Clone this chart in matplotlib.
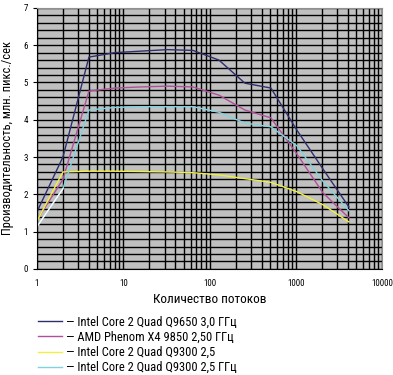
import numpy as np
import matplotlib.pyplot as plt
from matplotlib.ticker import LogLocator, MultipleLocator, NullFormatter

plt.rcParams["font.family"] = ["Roboto Condensed", "DejaVu Sans"]

threads = [1, 2, 4, 8, 16, 32, 64, 128, 256, 512, 1024, 2048, 4096]
q9650 = [1.53, 3.0, 5.68, 5.80, 5.84, 5.88, 5.86, 5.6, 4.98, 4.85, 3.72, 2.68, 1.66]
phenom = [1.31, 2.4, 4.77, 4.85, 4.88, 4.9, 4.88, 4.66, 4.26, 4.05, 3.08, 2.04, 1.37]
q9300_a = [1.28, 2.6, 2.62, 2.62, 2.61, 2.6, 2.58, 2.52, 2.42, 2.32, 2.07, 1.72, 1.26]
q9300_b = [1.13, 2.15, 4.26, 4.33, 4.35, 4.35, 4.35, 4.2, 3.91, 3.81, 3.3, 2.35, 1.56]

labels = [
    "— Intel Core 2 Quad Q9650 3,0 ГГц",
    "— AMD Phenom X4 9850 2,50 ГГц",
    "— Intel Core 2 Quad Q9300 2,5",
    "— Intel Core 2 Quad Q9300 2,5 ГГц",
]
colors = ["#2e2e6e", "#b0509a", "#f0f040", "#80d4e0"]

fig = plt.figure(figsize=(3.93, 3.75), dpi=100)
ax = fig.add_axes([0.094, 0.283, 0.879, 0.696])
ax.set_facecolor("#c0c0c0")

ax.set_xscale("log")
ax.set_xlim(1, 10000)
ax.set_ylim(0, 7)

# grid: black lines, minor log ticks on x and 0.2 steps on y
ax.xaxis.set_minor_locator(LogLocator(base=10, subs=np.arange(2, 10)))
ax.xaxis.set_minor_formatter(NullFormatter())
ax.yaxis.set_major_locator(MultipleLocator(1))
ax.yaxis.set_minor_locator(MultipleLocator(0.2))
ax.grid(True, which="both", color="black", linewidth=1.0)
ax.set_axisbelow(True)

lines = []
for ys, c, lab in zip([q9650, phenom, q9300_a, q9300_b], colors, labels):
    (ln,) = ax.plot(threads, ys, color=c, linewidth=1.0, label=lab)
    lines.append(ln)
# first segment of the last series is drawn white in the original
ax.plot(threads[:2], q9300_b[:2], color="white", linewidth=1.0)

for s in ["top", "right"]:
    ax.spines[s].set_color("#909090")
for s in ["left", "bottom"]:
    ax.spines[s].set_color("black")

ax.tick_params(axis="both", which="major", labelsize=6.5, length=3, color="black")
ax.tick_params(axis="x", which="major", length=0, pad=7)
ax.tick_params(axis="both", which="minor", length=0)
ax.set_xticks([1, 10, 100, 1000, 10000])
ax.set_xticklabels(["1", "10", "100", "1000", "10000"])

ax.set_xlabel("Количество потоков", fontsize=9.5, labelpad=4)
ax.set_ylabel("Производительность, млн. пикс./сек", fontsize=9, labelpad=7)

fig.legend(
    handles=lines,
    loc="upper left",
    bbox_to_anchor=(0.085, 0.172),
    frameon=False,
    fontsize=9,
    handlelength=1.9,
    handletextpad=0.3,
    labelspacing=0.18,
    borderaxespad=0,
)

plt.savefig("out.png", dpi=100)
